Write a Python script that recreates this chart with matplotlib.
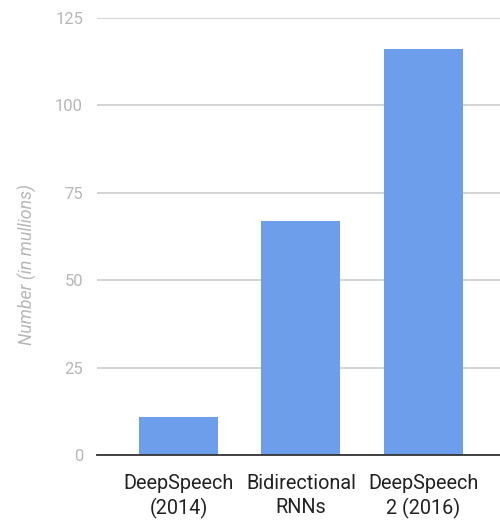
import numpy as np
import matplotlib
matplotlib.use('Agg')
import matplotlib.pyplot as plt

plt.rcParams['font.family'] = ['Roboto', 'DejaVu Sans']

# parameter counts of the speech models, in millions
models = ['DeepSpeech\n(2014)', 'Bidirectional\nRNNs', 'DeepSpeech\n2 (2016)']
params = [11, 67, 116]
yticks = [0, 25, 50, 75, 100, 125]

fig = plt.figure(figsize=(5, 5.2), dpi=100)
ax = fig.add_axes([0.194, 0.125, 0.806, 0.8404])

x = np.arange(len(models))
ax.bar(x, params, width=0.645, color='#6d9eeb', zorder=3)

ax.set_xlim(-0.665, 2.625)
ax.set_ylim(0, 125)
ax.set_yticks(yticks)
ax.set_xticks(x)
ax.set_xticklabels(models, fontsize=14.3, color='#222222', linespacing=1.3)
ax.tick_params(axis='y', labelsize=12, labelcolor='#b7b7b7', length=0, pad=10)
ax.tick_params(axis='x', length=0, pad=14)

# light horizontal grid, dark baseline
ax.grid(axis='y', color='#cccccc', linewidth=1.2, zorder=0)
for s in ['top', 'right', 'left']:
    ax.spines[s].set_visible(False)
ax.spines['bottom'].set_color('#333333')
ax.spines['bottom'].set_linewidth(1.3)
ax.spines['bottom'].set_zorder(4)

ax.set_ylabel('Number (in mullions)', fontsize=12.8, color='#b7b7b7', style='italic')
ax.yaxis.set_label_coords(-0.15, 0.437)

fig.savefig('out.png', dpi=100)
